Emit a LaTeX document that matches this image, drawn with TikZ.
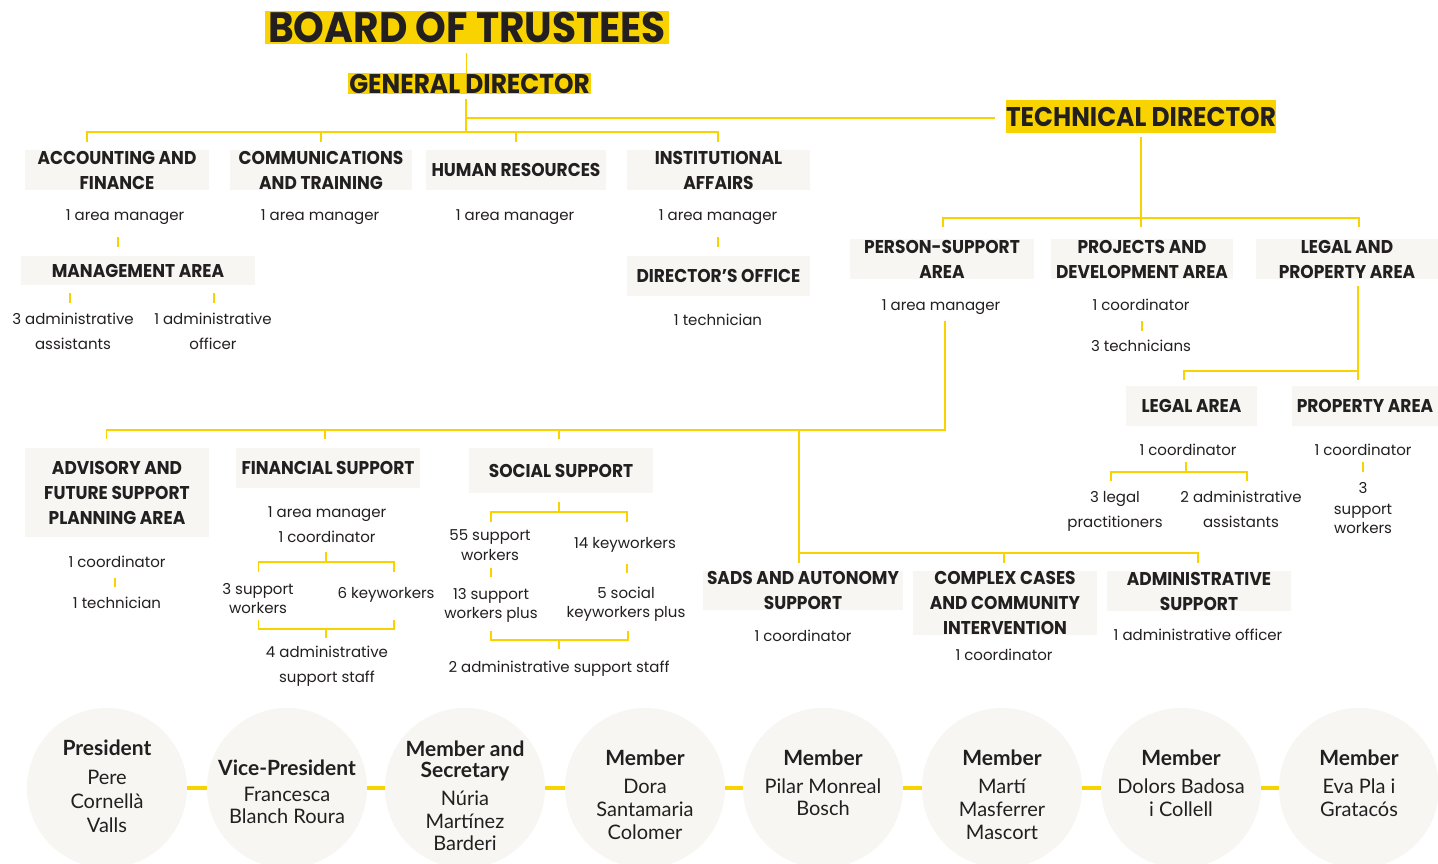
\documentclass[tikz,border=0pt]{standalone}
\usepackage{fontspec}
\setmainfont{Poppins}
\newfontfamily\headf{Poppins}[FakeStretch=0.92]
\newfontfamily\bodyf{Poppins}
\newfontfamily\memf{Lato}
\usetikzlibrary{calc}
\definecolor{yel}{HTML}{F8D300}
\definecolor{ink}{HTML}{231F20}
\definecolor{boxg}{HTML}{F7F6F2}
\tikzset{
  conn/.style={draw=yel, line width=1.8pt},
  mconn/.style={draw=yel, line width=4pt},
  graybox/.style={fill=boxg, inner sep=0pt, text=ink, align=center,
    font=\headf\bfseries\fontsize{18.5}{25}\selectfont},
  ybox/.style={fill=yel, inner sep=0pt, text=ink},
  lab/.style={anchor=base, inner sep=0pt, text=ink, font=\bodyf\fontsize{15}{19}\selectfont},
  memb/.style={circle, fill=boxg, minimum size=160pt, inner sep=0pt},
  mtitle/.style={anchor=base, inner sep=0pt, text=ink, font=\memf\bfseries\fontsize{21}{24}\selectfont},
  mname/.style={anchor=base, inner sep=0pt, text=ink, font=\memf\fontsize{20}{23}\selectfont},
}
\newcommand\lab[4]{\node[lab] (#1) at (#2,#3+5) {#4};}
\newcommand\mt[4]{\node[mtitle] (#1) at (#2,#3+7) {#4};}
\newcommand\mn[4]{\node[mname] (#1) at (#2,#3+6.5) {#4};}
\begin{document}
\begin{tikzpicture}[x=1pt,y=-1pt]
\useasboundingbox (0,0) rectangle (1438,863);
\fill[white] (0,0) rectangle (1438,863);

% ---------- titles
\node[ybox, minimum width=404pt, minimum height=33pt, font=\headf\bfseries\fontsize{42.5}{42}\selectfont] (board) at (467,27.5) {BOARD OF TRUSTEES};
\node[ybox, minimum width=243pt, minimum height=21pt, font=\headf\bfseries\fontsize{27}{27}\selectfont] (gd) at (469.5,83.5) {GENERAL DIRECTOR};
\node[ybox, minimum width=268pt, minimum height=33pt, font=\headf\bfseries\fontsize{27}{27}\selectfont] (td) at (1141,116.5) {TECHNICAL DIRECTOR};

% ---------- general director branch
\node[graybox, minimum width=184pt, minimum height=40pt] (acc) at (117,170) {ACCOUNTING AND\\FINANCE};
\node[graybox, minimum width=182pt, minimum height=40pt] (com) at (321,170) {COMMUNICATIONS\\AND TRAINING};
\node[graybox, minimum width=180pt, minimum height=40pt] (hr) at (516,170) {HUMAN RESOURCES};
\node[graybox, minimum width=183pt, minimum height=40pt] (inst) at (718.5,170) {INSTITUTIONAL\\AFFAIRS};
\lab{am1}{125}{215}{1 area manager}
\lab{am2}{320}{215}{1 area manager}
\lab{am3}{515}{215}{1 area manager}
\lab{am4}{718}{215}{1 area manager}
\node[graybox, minimum width=234pt, minimum height=29pt] (mgmt) at (138,270.5) {MANAGEMENT AREA};
\lab{ma1}{73}{319}{3 administrative}
\lab{ma2}{73}{344}{assistants}
\lab{mo1}{213}{319}{1 administrative}
\lab{mo2}{213}{344}{officer}
\node[graybox, minimum width=183pt, minimum height=40pt] (dir) at (718.5,276) {DIRECTOR’S OFFICE};
\lab{dt}{718}{320}{1 technician}

% ---------- technical director branch
\node[graybox, minimum width=184pt, minimum height=40pt] (ps) at (942,259) {PERSON-SUPPORT\\AREA};
\node[graybox, minimum width=182pt, minimum height=40pt] (pd) at (1142,259) {PROJECTS AND\\DEVELOPMENT AREA};
\node[graybox, minimum width=182pt, minimum height=40pt] (lp) at (1347,259) {LEGAL AND\\PROPERTY AREA};
\lab{am5}{941}{305}{1 area manager}
\lab{pdc}{1141}{305}{1 coordinator}
\lab{pdt}{1141}{346}{3 technicians}
\node[graybox, minimum width=131pt, minimum height=40pt] (legal) at (1191.5,406) {LEGAL AREA};
\node[graybox, minimum width=146pt, minimum height=40pt] (prop) at (1365,406) {PROPERTY AREA};
\lab{lc}{1188}{450}{1 coordinator}
\lab{prc}{1363}{450}{1 coordinator}
\lab{lg1}{1115}{497}{3 legal}
\lab{lg2}{1115}{522}{practitioners}
\lab{la1}{1241}{497}{2 administrative}
\lab{la2}{1241}{522}{assistants}
\lab{pw1}{1363}{488}{3}
\lab{pw2}{1363}{509}{support}
\lab{pw3}{1363}{528}{workers}

% ---------- person-support sub-areas
\node[graybox, minimum width=184pt, minimum height=89pt] (adv) at (117,492.5) {ADVISORY AND\\FUTURE SUPPORT\\PLANNING AREA};
\node[graybox, minimum width=184pt, minimum height=40pt] (fin) at (328,468) {FINANCIAL SUPPORT};
\node[graybox, minimum width=184pt, minimum height=45pt] (soc) at (561,470.5) {SOCIAL SUPPORT};
\lab{advc}{117}{562}{1 coordinator}
\lab{advt}{117}{603}{1 technician}
\lab{fam}{327}{512}{1 area manager}
\lab{fco}{327}{537}{1 coordinator}
\lab{fs1a}{258}{589}{3 support}
\lab{fs1b}{258}{608}{workers}
\lab{fs2}{386}{593}{6 keyworkers}
\lab{fs3a}{327}{652}{4 administrative}
\lab{fs3b}{327}{677}{support staff}
\lab{s1a}{490}{535}{55 support}
\lab{s1b}{490}{555}{workers}
\lab{s2}{625}{543}{14 keyworkers}
\lab{s3a}{491}{594}{13 support}
\lab{s3b}{491}{613}{workers plus}
\lab{s4a}{626}{593}{5 social}
\lab{s4b}{626}{612}{keyworkers plus}
\lab{s5}{559}{667}{2 administrative support staff}
\node[graybox, minimum width=200pt, minimum height=39pt] (sads) at (803,590.5) {SADS AND AUTONOMY\\SUPPORT};
\node[graybox, minimum width=184pt, minimum height=64pt] (cc) at (1005,603) {COMPLEX CASES\\AND COMMUNITY\\INTERVENTION};
\node[graybox, minimum width=184pt, minimum height=40pt] (adm) at (1199,591) {ADMINISTRATIVE\\SUPPORT};
\lab{sadsc}{803}{636}{1 coordinator}
\lab{ccc}{1004}{655}{1 coordinator}
\lab{admo}{1198}{635}{1 administrative officer}

% ---------- connectors: top
\coordinate (b1) at (466.5,53);
\draw[conn] (b1) -- (b1 |- gd.north);
\coordinate (g1) at (466,99);
\coordinate (g2) at (466,132);
\coordinate (g3) at (466,118);
\draw[conn] (g1) -- (g2);
\draw[conn, shorten >=11pt] (g3) -- (g3 -| td.west);
\coordinate (L1l) at (87,132);
\coordinate (L1r) at (718,132);
\draw[conn] ([yshift=-10pt]L1l) -- (L1l) -- (L1r) -- ([yshift=-10pt]L1r);
\draw[conn] (L1l -| com) -- ++(0,10);
\draw[conn] (L1l -| hr) -- ++(0,10);
\coordinate (ta) at (118,237);
\draw[conn] (ta) -- ++(0,10);
\coordinate (tm1) at (70,293);
\coordinate (tm2) at (214,293);
\draw[conn] (tm1) -- ++(0,10);
\draw[conn] (tm2) -- ++(0,10);
\coordinate (ti) at (718,237);
\draw[conn] (ti) -- ++(0,10);

% ---------- connectors: technical director
\coordinate (t1) at (1141,137);
\coordinate (t2) at (1141,227);
\draw[conn] (t1) -- (t2);
\coordinate (T2l) at (943,218);
\coordinate (T2r) at (1359,218);
\draw[conn] ([yshift=-9pt]T2l) -- (T2l) -- (T2r) -- ([yshift=-9pt]T2r);
\coordinate (tp) at (1142,321);
\draw[conn] (tp) -- ++(0,10);
\coordinate (lp1) at (1358,286);
\coordinate (lp2) at (1358,380);
\draw[conn] (lp1) -- (lp2);
\coordinate (lp3) at (1184,371);
\draw[conn] ([yshift=-9pt]lp3) -- (lp3) -- (lp3 -| lp1);
\coordinate (lgc) at (1186,462);
\draw[conn] (lgc) -- ++(0,10);
\coordinate (lgl) at (1111,472);
\coordinate (lgr) at (1247,472);
\draw[conn] ([yshift=-9pt]lgl) -- (lgl) -- (lgr) -- ([yshift=-9pt]lgr);
\coordinate (prt) at (1363,462);
\draw[conn] (prt) -- ++(0,10);

% ---------- connectors: person-support
\coordinate (ps1) at (945,321);
\coordinate (ps2) at (945,430);
\coordinate (psl) at (106.5,430);
\draw[conn] (ps1) -- (ps2) -- (psl) -- ([yshift=-9pt]psl);
\draw[conn] (325,430) -- ++(0,9);
\draw[conn] (559,430) -- ++(0,9);
\coordinate (sd1) at (799,430);
\coordinate (sd2) at (799,563);
\coordinate (sdr) at (1198,553);
\draw[conn] (sd1) -- (sd2);
\draw[conn] (sd1 |- sdr) -- (sdr) -- ([yshift=-10pt]sdr);
\draw[conn] (1004,553) -- ++(0,10);
\coordinate (advk) at (115,578);
\draw[conn] (advk) -- ++(0,9);
% financial
\coordinate (fk) at (326,552);
\draw[conn] (fk) -- ++(0,10);
\coordinate (fl) at (258.5,562);
\coordinate (fr) at (394,562);
\draw[conn] ([yshift=-10pt]fl) -- (fl) -- (fr) -- ([yshift=-10pt]fr);
\coordinate (fbl) at (258.5,629);
\coordinate (fbr) at (394,629);
\draw[conn] ([yshift=9pt]fbl) -- (fbl) -- (fbr) -- ([yshift=9pt]fbr);
\draw[conn] (326,629) -- ++(0,9);
% social
\coordinate (sk) at (559,502);
\draw[conn] (sk) -- ++(0,10);
\coordinate (sl) at (491,512);
\coordinate (sr) at (627,512);
\draw[conn] ([yshift=-10pt]sl) -- (sl) -- (sr) -- ([yshift=-10pt]sr);
\draw[conn] (491,568) -- ++(0,9);
\draw[conn] (627,564) -- ++(0,9);
\coordinate (sbl) at (491,640);
\coordinate (sbr) at (628,640);
\draw[conn] ([yshift=9pt]sbl) -- (sbl) -- (sbr) -- ([yshift=9pt]sbr);
\draw[conn] (559,640) -- ++(0,9);

% ---------- board members
\node[memb] (c1) at (107,788) {};
\node[memb] (c2) at (287,788) {};
\node[memb] (c3) at (465,788) {};
\node[memb] (c4) at (645,788) {};
\node[memb] (c5) at (823,788) {};
\node[memb] (c6) at (1002,788) {};
\node[memb] (c7) at (1181,788) {};
\node[memb] (c8) at (1359,788) {};
\draw[mconn] (c1.east) -- (c2.west);
\draw[mconn] (c2.east) -- (c3.west);
\draw[mconn] (c3.east) -- (c4.west);
\draw[mconn] (c4.east) -- (c5.west);
\draw[mconn] (c5.east) -- (c6.west);
\draw[mconn] (c6.east) -- (c7.west);
\draw[mconn] (c7.east) -- (c8.west);

\mt{c1t}{107}{748}{President}
\mn{c1a}{107}{778}{Pere}
\mn{c1b}{107}{802}{Cornellà}
\mn{c1c}{107}{826}{Valls}

\mt{c2t}{287}{768}{Vice-President}
\mn{c2a}{287}{795}{Francesca}
\mn{c2b}{287}{817}{Blanch Roura}

\mt{c3t}{465}{749}{Member and}
\mt{c3u}{465}{770}{Secretary}
\mn{c3a}{465}{799}{Núria}
\mn{c3b}{465}{822}{Martínez}
\mn{c3c}{465}{844}{Barderi}

\mt{c4t}{645}{758}{Member}
\mn{c4a}{645}{787}{Dora}
\mn{c4b}{645}{810}{Santamaria}
\mn{c4c}{645}{833}{Colomer}

\mt{c5t}{823}{758}{Member}
\mn{c5a}{823}{787}{Pilar Monreal}
\mn{c5b}{823}{809}{Bosch}

\mt{c6t}{1002}{758}{Member}
\mn{c6a}{1002}{787}{Martí}
\mn{c6b}{1002}{810}{Masferrer}
\mn{c6c}{1002}{833}{Mascort}

\mt{c7t}{1181}{758}{Member}
\mn{c7a}{1181}{787}{Dolors Badosa}
\mn{c7b}{1181}{810}{i Collell}

\mt{c8t}{1359}{758}{Member}
\mn{c8a}{1359}{787}{Eva Pla i}
\mn{c8b}{1359}{810}{Gratacós}
\end{tikzpicture}
\end{document}
